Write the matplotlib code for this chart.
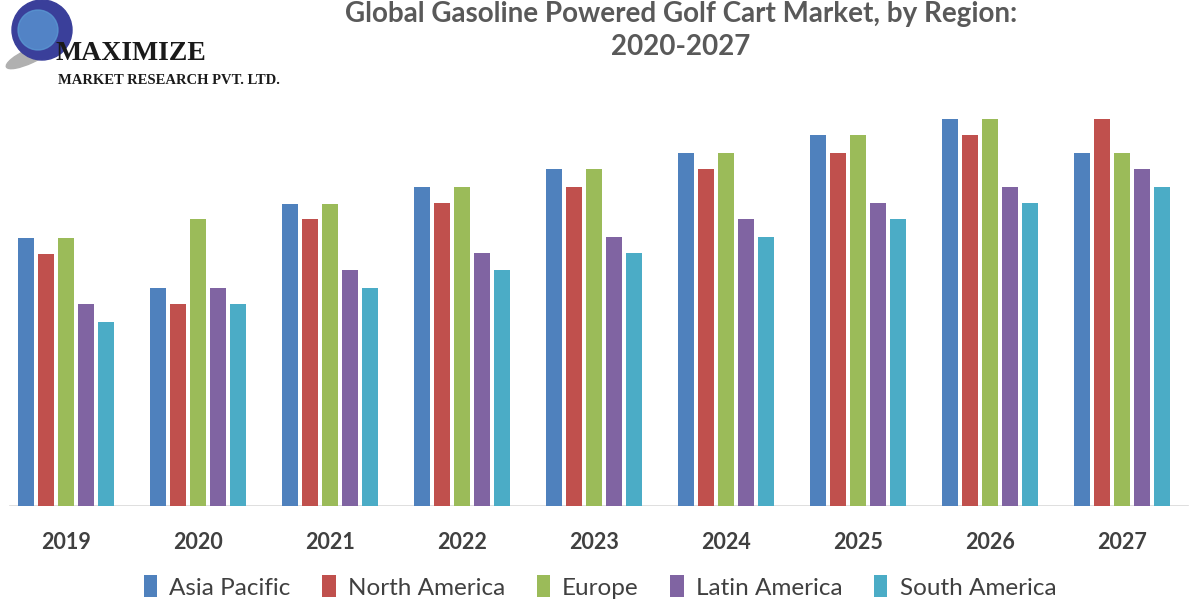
import numpy as np
import matplotlib
matplotlib.use("Agg")
import matplotlib.pyplot as plt
from matplotlib.patches import Circle, Ellipse

years = ["2019", "2020", "2021", "2022", "2023", "2024", "2025", "2026", "2027"]
regions = ["Asia Pacific", "North America", "Europe", "Latin America", "South America"]

asia_pacific = [268, 218, 302, 319, 337, 353, 371, 387, 353]
north_america = [252, 202, 287, 303, 319, 337, 353, 371, 387]
europe = [268, 287, 302, 319, 337, 353, 371, 387, 353]
latin_america = [202, 218, 236, 253, 269, 287, 303, 319, 337]
south_america = [184, 202, 218, 236, 253, 269, 287, 303, 319]

series = [asia_pacific, north_america, europe, latin_america, south_america]
colors = ["#4F81BD", "#C0504D", "#9BBB59", "#8064A2", "#4BACC6"]

fig = plt.figure(figsize=(12, 6), dpi=100)
ax = fig.add_axes([0, 1 - 506 / 600, 1, (506 - 100) / 600])

x = np.arange(len(years))
slot = 20 / 132
width = 16 / 132
bars = []
for i, (vals, c) in enumerate(zip(series, colors)):
    b = ax.bar(x + (i - 2) * slot, vals, width, color=c, label=regions[i], zorder=2)
    bars.append(b)

ax.set_xlim(-0.5, (1200 - 66) / 132)
ax.set_ylim(0, 406)
ax.axhline(0, xmin=0.008, xmax=0.99, color="#D9D9D9", lw=1.2, zorder=1)
for s in ax.spines.values():
    s.set_visible(False)
ax.set_yticks([])
ax.set_xticks(x)
ax.set_xticklabels(years, family="Lato", fontweight="bold", fontsize=15.5, color="#404040")
ax.tick_params(axis="x", length=0, pad=19)

fig.text(0.5675, 0.977, "Global Gasoline Powered Golf Cart Market, by Region:",
         ha="center", va="center", family="Lato", fontweight="bold", fontsize=20, color="#595959")
fig.text(0.5675, 0.921, "2020-2027", ha="center", va="center",
         family="Lato", fontweight="bold", fontsize=20, color="#595959")

leg = fig.legend(handles=bars, labels=regions, loc="center", bbox_to_anchor=(0.5, 1 - 587 / 600),
                 ncol=5, frameon=False, handlelength=0.55, handleheight=1.0, handletextpad=0.5,
                 columnspacing=1.3, prop={"family": "Lato", "size": 17.5})
for t in leg.get_texts():
    t.set_color("#404040")

# logo
logo = fig.add_axes([0, 0.82, 0.25, 0.18])
logo.set_xlim(0, 300)
logo.set_ylim(108, 0)
logo.axis("off")
logo.add_patch(Ellipse((30, 56), 52, 14, angle=-25, color="#B0B0B0"))
logo.add_patch(Circle((42, 30), 30, color="#3A3F9A"))
logo.add_patch(Circle((38, 30), 20, color="#5B9BD5", alpha=0.75))
logo.text(56, 54, "MAXIMIZE", family="Liberation Serif",
          fontweight="bold", fontsize=20, color="#1A1A1A", va="center", ha="left")
logo.text(58, 81, "MARKET RESEARCH PVT. LTD.", family="Liberation Serif",
          fontweight="bold", fontsize=10.5, color="#1A1A1A", va="center", ha="left")

fig.savefig("out.png", dpi=100, facecolor="white")
